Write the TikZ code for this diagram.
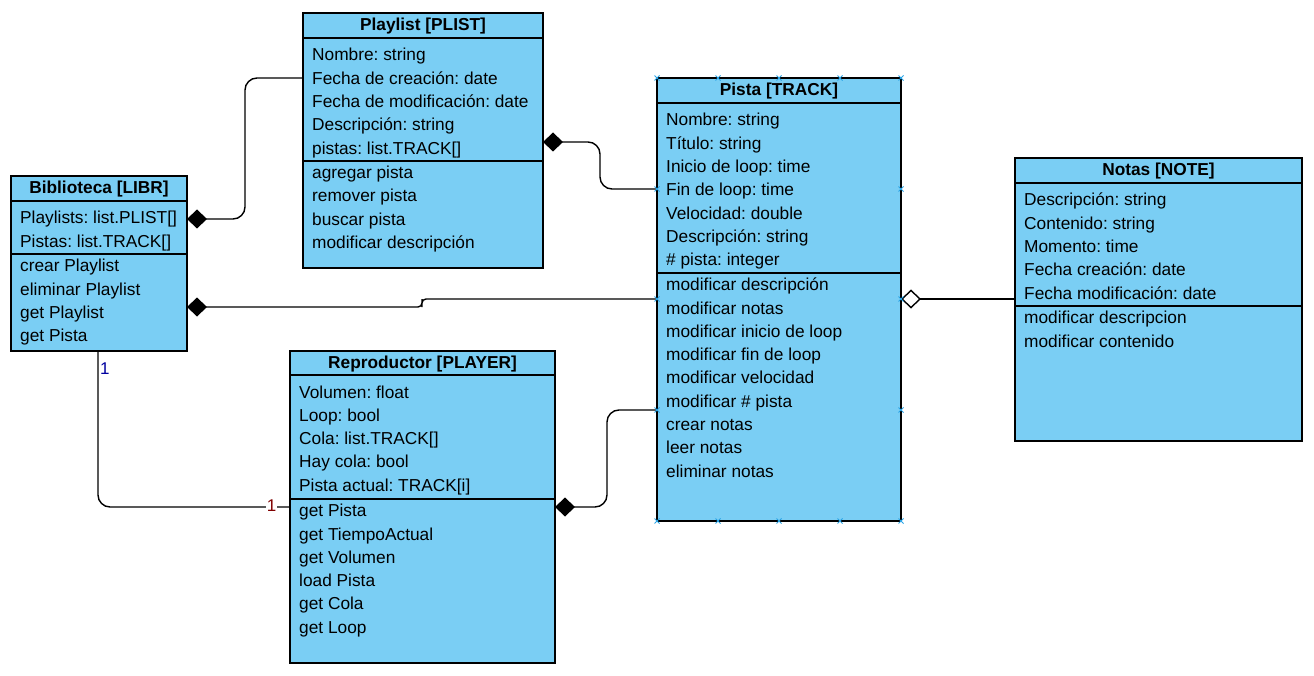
\documentclass[tikz,border=0pt]{standalone}
\usepackage{fontspec}
\setmainfont{Liberation Sans}
\usetikzlibrary{arrows.meta}
\definecolor{clsfill}{RGB}{122,206,244}
\definecolor{handleblue}{RGB}{41,163,230}
\definecolor{multblue}{RGB}{0,0,160}
\definecolor{multred}{RGB}{128,0,0}
\frenchspacing

\begin{document}
\begin{tikzpicture}[x=1pt,y=-1pt,
  cls/.style={draw,line width=1.3pt,fill=clsfill,anchor=north west,inner sep=0,outer sep=0},
  sep/.style={line width=1.3pt},
  head/.style={anchor=base,inner sep=0,font=\fontsize{17.3pt}{20pt}\selectfont\bfseries},
  item/.style={anchor=base west,inner sep=0,font=\fontsize{17.3pt}{20pt}\selectfont},
  link/.style={line width=1.4pt,rounded corners=12pt},
  comp/.style={-{Diamond[length=20pt,width=19pt]}},
  aggr/.style={-{Diamond[open,length=20pt,width=19pt]}},
  mult/.style={inner sep=0.5pt,font=\fontsize{17pt}{20pt}\selectfont},
  handle/.style={handleblue,line width=0.8pt}]
\useasboundingbox (0,0) rectangle (1314,676);

% Biblioteca
\node[cls,minimum width=176pt,minimum height=175pt] (libr) at (11,176) {};
\draw[sep] (libr.west |- 0,201) -- (libr.east |- 0,201);
\node[head] (libr-t) at (99,194) {Biblioteca [LIBR]};
\node[item] (libr-a1) at (20,224) {Playlists: list.PLIST[]};
\node[item] (libr-a2) at (20,247.3) {Pistas: list.TRACK[]};
\draw[sep] (libr.west |- 0,254) -- (libr.east |- 0,254);
\node[item] (libr-m1) at (20,271.7) {crear Playlist};
\node[item] (libr-m2) at (20,295) {eliminar Playlist};
\node[item] (libr-m3) at (20,318.3) {get Playlist};
\node[item] (libr-m4) at (20,341.6) {get Pista};

% Playlist
\node[cls,minimum width=240pt,minimum height=255pt] (plist) at (303,13) {};
\draw[sep] (plist.west |- 0,38) -- (plist.east |- 0,38);
\node[head] (plist-t) at (423,31) {Playlist [PLIST]};
\node[item] (plist-a1) at (312,61) {Nombre: string};
\node[item] (plist-a2) at (312,84.3) {Fecha de creación: date};
\node[item] (plist-a3) at (312,107.6) {Fecha de modificación: date};
\node[item] (plist-a4) at (312,130.9) {Descripción: string};
\node[item] (plist-a5) at (312,154.2) {pistas: list.TRACK[]};
\draw[sep] (plist.west |- 0,161) -- (plist.east |- 0,161);
\node[item] (plist-m1) at (312,178.7) {agregar pista};
\node[item] (plist-m2) at (312,202) {remover pista};
\node[item] (plist-m3) at (312,225.3) {buscar pista};
\node[item] (plist-m4) at (312,248.6) {modificar descripción};

% Pista
\node[cls,minimum width=244pt,minimum height=443pt] (pista) at (657,78) {};
\draw[sep] (pista.west |- 0,103) -- (pista.east |- 0,103);
\node[head] (pista-t) at (779,96) {Pista [TRACK]};
\node[item] (pista-a1) at (666,126) {Nombre: string};
\node[item] (pista-a2) at (666,149.3) {Título: string};
\node[item] (pista-a3) at (666,172.6) {Inicio de loop: time};
\node[item] (pista-a4) at (666,195.9) {Fin de loop: time};
\node[item] (pista-a5) at (666,219.2) {Velocidad: double};
\node[item] (pista-a6) at (666,242.5) {Descripción: string};
\node[item] (pista-a7) at (666,265.8) {\# pista: integer};
\draw[sep] (pista.west |- 0,273) -- (pista.east |- 0,273);
\node[item] (pista-m1) at (666,290.7) {modificar descripción};
\node[item] (pista-m2) at (666,314) {modificar notas};
\node[item] (pista-m3) at (666,337.3) {modificar inicio de loop};
\node[item] (pista-m4) at (666,360.6) {modificar fin de loop};
\node[item] (pista-m5) at (666,383.9) {modificar velocidad};
\node[item] (pista-m6) at (666,407.2) {modificar \# pista};
\node[item] (pista-m7) at (666,430.5) {crear notas};
\node[item] (pista-m8) at (666,453.8) {leer notas};
\node[item] (pista-m9) at (666,477.1) {eliminar notas};

% Notas
\node[cls,minimum width=287pt,minimum height=283pt] (notas) at (1015,158) {};
\draw[sep] (notas.west |- 0,183) -- (notas.east |- 0,183);
\node[head] (notas-t) at (1158.5,176) {Notas [NOTE]};
\node[item] (notas-a1) at (1024,206) {Descripción: string};
\node[item] (notas-a2) at (1024,229.3) {Contenido: string};
\node[item] (notas-a3) at (1024,252.6) {Momento: time};
\node[item] (notas-a4) at (1024,275.9) {Fecha creación: date};
\node[item] (notas-a5) at (1024,299.2) {Fecha modificación: date};
\draw[sep] (notas.west |- 0,306) -- (notas.east |- 0,306);
\node[item] (notas-m1) at (1024,323.7) {modificar descripcion};
\node[item] (notas-m2) at (1024,347) {modificar contenido};

% Reproductor
\node[cls,minimum width=265pt,minimum height=312pt] (player) at (290,351) {};
\draw[sep] (player.west |- 0,375) -- (player.east |- 0,375);
\node[head] (player-t) at (422.5,368.5) {Reproductor [PLAYER]};
\node[item] (player-a1) at (299,398) {Volumen: float};
\node[item] (player-a2) at (299,421.3) {Loop: bool};
\node[item] (player-a3) at (299,444.6) {Cola: list.TRACK[]};
\node[item] (player-a4) at (299,467.9) {Hay cola: bool};
\node[item] (player-a5) at (299,491.2) {Pista actual: TRACK[i]};
\draw[sep] (player.west |- 0,499) -- (player.east |- 0,499);
\node[item] (player-m1) at (299,516.7) {get Pista};
\node[item] (player-m2) at (299,540) {get TiempoActual};
\node[item] (player-m3) at (299,563.3) {get Volumen};
\node[item] (player-m4) at (299,586.6) {load Pista};
\node[item] (player-m5) at (299,609.9) {get Cola};
\node[item] (player-m6) at (299,633.2) {get Loop};

% relaciones
\draw[link,comp] ([yshift=-65pt]plist.north west) -| (245,150) |- ([yshift=-43pt]libr.north east);
\draw[link,comp] ([yshift=-111pt]pista.north west) -| (600,165) |- ([yshift=-129pt]plist.north east);
\draw[link,comp,rounded corners=4pt] ([yshift=-221pt]pista.north west) -| (422,303) |- ([yshift=-131pt]libr.north east);
\draw[link,aggr] ([yshift=-141pt]notas.north west) -- ([yshift=-221pt]pista.north east);
\draw[link,comp] ([yshift=-332pt]pista.north west) -| (607,460) |- ([yshift=-156pt]player.north east);
\draw[link] (libr.south -| 98,0) |- ([yshift=-156pt]player.north west);
\node[mult,text=multblue,anchor=base west] (m-libr) at (99.5,374) {1};
\node[mult,text=multred,fill=white,anchor=base] (m-player) at (271.5,511) {1};

% marcas de seleccion
\draw[handle] (657,78) +(-2.5,-2.5) -- +(2.5,2.5) +(-2.5,2.5) -- +(2.5,-2.5);
\draw[handle] (718,78) +(-2.5,-2.5) -- +(2.5,2.5) +(-2.5,2.5) -- +(2.5,-2.5);
\draw[handle] (779,78) +(-2.5,-2.5) -- +(2.5,2.5) +(-2.5,2.5) -- +(2.5,-2.5);
\draw[handle] (840,78) +(-2.5,-2.5) -- +(2.5,2.5) +(-2.5,2.5) -- +(2.5,-2.5);
\draw[handle] (901,78) +(-2.5,-2.5) -- +(2.5,2.5) +(-2.5,2.5) -- +(2.5,-2.5);
\draw[handle] (657,521) +(-2.5,-2.5) -- +(2.5,2.5) +(-2.5,2.5) -- +(2.5,-2.5);
\draw[handle] (718,521) +(-2.5,-2.5) -- +(2.5,2.5) +(-2.5,2.5) -- +(2.5,-2.5);
\draw[handle] (779,521) +(-2.5,-2.5) -- +(2.5,2.5) +(-2.5,2.5) -- +(2.5,-2.5);
\draw[handle] (840,521) +(-2.5,-2.5) -- +(2.5,2.5) +(-2.5,2.5) -- +(2.5,-2.5);
\draw[handle] (901,521) +(-2.5,-2.5) -- +(2.5,2.5) +(-2.5,2.5) -- +(2.5,-2.5);
\draw[handle] (657,189) +(-2.5,-2.5) -- +(2.5,2.5) +(-2.5,2.5) -- +(2.5,-2.5);
\draw[handle] (657,299) +(-2.5,-2.5) -- +(2.5,2.5) +(-2.5,2.5) -- +(2.5,-2.5);
\draw[handle] (657,410) +(-2.5,-2.5) -- +(2.5,2.5) +(-2.5,2.5) -- +(2.5,-2.5);
\draw[handle] (901,189) +(-2.5,-2.5) -- +(2.5,2.5) +(-2.5,2.5) -- +(2.5,-2.5);
\draw[handle] (901,299) +(-2.5,-2.5) -- +(2.5,2.5) +(-2.5,2.5) -- +(2.5,-2.5);
\draw[handle] (901,410) +(-2.5,-2.5) -- +(2.5,2.5) +(-2.5,2.5) -- +(2.5,-2.5);
\end{tikzpicture}
\end{document}
